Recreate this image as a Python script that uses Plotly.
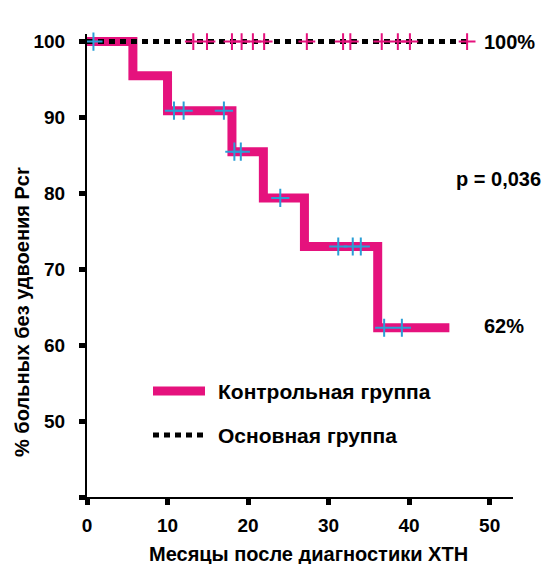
import plotly.graph_objects as go

# Control group (Kaplan-Meier step curve)
ctrl_times = [0, 5.7, 10.0, 18.0, 21.9, 27.0, 36.1, 45.0]
ctrl_surv = [100, 95.5, 90.9, 85.5, 79.4, 73.0, 62.3, 62.3]
ctrl_censor_times = [0.8, 10.8, 12.0, 17.0, 18.3, 19.1, 24.0, 31.2, 33.0, 34.0, 36.9, 39.1]

# Main group (no events)
main_times = [0, 47.2]
main_surv = [100, 100]
main_censor_times = [13.2, 14.9, 18.0, 19.2, 20.6, 22.0, 27.3, 31.8, 32.7, 36.6, 38.6, 40.1, 47.2]

x_ticks = [0, 10, 20, 30, 40, 50]
y_ticks = [40, 50, 60, 70, 80, 90, 100]
y_ticktext = ["", "50", "60", "70", "80", "90", "100"]

legend_labels = ["Контрольная группа", "Основная группа"]
x_title = "Месяцы после диагностики ХТН"
y_title = "% больных без удвоения Pcr"

PINK = "#e5127d"
BLUE = "#2a9fd6"


def surv_at(t, times, surv):
    val = surv[0]
    for ti, si in zip(times, surv):
        if t >= ti:
            val = si
    return val


ctrl_censor_y = [surv_at(t, ctrl_times, ctrl_surv) for t in ctrl_censor_times]
main_censor_y = [surv_at(t, main_times, main_surv) for t in main_censor_times]

fig = go.Figure()
fig.add_trace(go.Scatter(x=ctrl_times, y=ctrl_surv, mode="lines", line_shape="hv",
                         line=dict(color=PINK, width=9), cliponaxis=False,
                         name=legend_labels[0], showlegend=False))
fig.add_trace(go.Scatter(x=main_times, y=main_surv, mode="lines",
                         line=dict(color="black", width=5, dash="6px,5px"), cliponaxis=False,
                         name=legend_labels[1], showlegend=False))
fig.add_trace(go.Scatter(x=ctrl_censor_times, y=ctrl_censor_y, mode="markers", cliponaxis=False,
                         marker=dict(symbol="cross-thin", size=13, line=dict(color=BLUE, width=2)),
                         showlegend=False))
fig.add_trace(go.Scatter(x=main_censor_times, y=main_censor_y, mode="markers", cliponaxis=False,
                         marker=dict(symbol="cross-thin", size=12, line=dict(color=PINK, width=2)),
                         showlegend=False))

FONT = dict(family="Liberation Sans", size=20, color="black", weight="bold")
LEGFONT = dict(family="Liberation Sans", size=21, color="black", weight="bold")
TICKFONT = dict(family="Liberation Sans", size=19, color="black", weight="bold")

# Plot-area geometry in pixels (for placing paper-coordinate items)
L, R, T, B = 87, 31, 34, 67
W, H = 544, 564
pw, ph = W - L - R, H - T - B


def px(xp):
    return (xp - L) / pw


def py(yp):
    return (H - B - yp) / ph


# Manual legend
fig.add_shape(type="line", xref="paper", yref="paper", x0=px(153), x1=px(205), y0=py(391), y1=py(391),
              line=dict(color=PINK, width=9))
fig.add_shape(type="line", xref="paper", yref="paper", x0=px(153), x1=px(205), y0=py(435), y1=py(435),
              line=dict(color="black", width=5, dash="6px,5px"))
fig.add_annotation(xref="paper", yref="paper", x=px(216), y=py(391), text=legend_labels[0],
                   showarrow=False, xanchor="left", yanchor="middle", font=LEGFONT)
fig.add_annotation(xref="paper", yref="paper", x=px(216), y=py(435), text=legend_labels[1],
                   showarrow=False, xanchor="left", yanchor="middle", font=LEGFONT)

# Text labels
fig.add_annotation(xref="paper", yref="paper", x=px(482), y=py(42), text="100%",
                   showarrow=False, xanchor="left", yanchor="middle", font=FONT)
fig.add_annotation(xref="paper", yref="paper", x=px(454), y=py(179), text="p = 0,036",
                   showarrow=False, xanchor="left", yanchor="middle", font=FONT)
fig.add_annotation(xref="paper", yref="paper", x=px(482), y=py(326), text="62%",
                   showarrow=False, xanchor="left", yanchor="middle", font=FONT)
fig.add_annotation(xref="paper", yref="paper", x=px(22), y=py(312), text=y_title, textangle=-90,
                   showarrow=False, xanchor="center", yanchor="middle", font=FONT)
fig.add_annotation(xref="paper", yref="paper", x=px(308), y=py(554), text=x_title,
                   showarrow=False, xanchor="center", yanchor="middle", font=FONT)

fig.update_layout(
    width=W, height=H,
    margin=dict(l=L, r=R, t=T, b=B, pad=0),
    paper_bgcolor="white", plot_bgcolor="white",
    font=FONT,
    xaxis=dict(range=[0, 52.9], tickvals=x_ticks, showgrid=False, zeroline=False,
               showline=True, linecolor="black", linewidth=2,
               ticks="outside", ticklen=6, tickwidth=5, tickcolor="black",
               ticklabelstandoff=4, tickfont=TICKFONT),
    yaxis=dict(range=[40, 101], tickvals=y_ticks, ticktext=y_ticktext, showgrid=False, zeroline=False,
               showline=True, linecolor="black", linewidth=2,
               ticks="outside", ticklen=6, tickwidth=5, tickcolor="black",
               ticklabelstandoff=10, tickfont=TICKFONT),
    showlegend=False,
)

fig.write_html("out.html", config={"displayModeBar": False},
               post_script="document.body.style.margin='0';document.body.style.overflow='hidden';")
